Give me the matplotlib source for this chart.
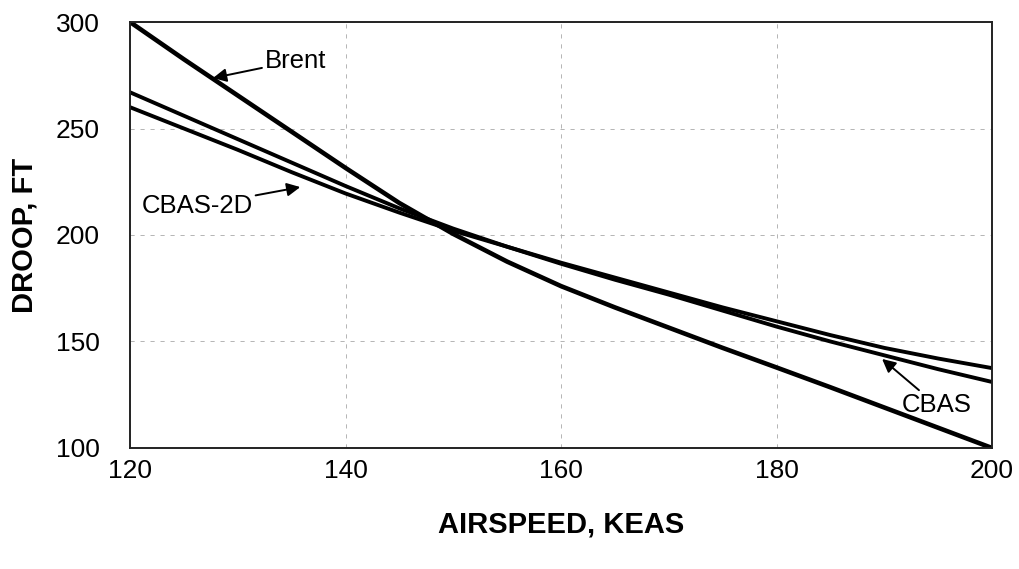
import matplotlib.pyplot as plt

plt.rcParams['font.family'] = ['Liberation Sans', 'DejaVu Sans']

# droop vs airspeed for the three estimators
airspeed = [120, 125, 130, 135, 140, 145, 150, 155, 160,
            165, 170, 175, 180, 185, 190, 195, 200]
droop_brent = [300, 282.5, 265.5, 248.5, 231.5, 215, 200.5, 187.5, 176,
               166, 156.5, 147, 137.8, 128.5, 119, 109.5, 100]
droop_cbas = [267, 256, 245, 234, 223, 212.5, 203, 194.5, 186.5,
              179, 172, 164.5, 157, 150, 143.5, 137, 131]
droop_cbas2d = [260, 250, 240, 229.5, 219.5, 210.5, 202, 194.5, 187,
                180, 173, 166, 159.5, 153, 147, 142, 137.5]

xticks = [120, 140, 160, 180, 200]
yticks = [100, 150, 200, 250, 300]

fig = plt.figure(figsize=(10.19, 5.69), dpi=100)
ax = fig.add_axes([0.1276, 0.2127, 0.8459, 0.7486])

ax.plot(airspeed, droop_brent, color='black', lw=3.3, solid_joinstyle='round')
ax.plot(airspeed, droop_cbas, color='black', lw=2.8, solid_joinstyle='round')
ax.plot(airspeed, droop_cbas2d, color='black', lw=2.8, solid_joinstyle='round')

ax.set_xlim(120, 200)
ax.set_ylim(100, 300)
ax.set_xticks(xticks)
ax.set_yticks(yticks)
ax.tick_params(axis='both', length=0, labelsize=19)
ax.tick_params(axis='x', pad=8)
ax.tick_params(axis='y', pad=22)
ax.grid(True, color='#a8a8a8', linestyle=(0, (5, 7)), linewidth=0.6)
for sp in ax.spines.values():
    sp.set_linewidth(1.4)
    sp.set_color('#222222')

ax.set_xlabel('AIRSPEED, KEAS', fontsize=21, fontweight='bold', labelpad=20)
ax.set_ylabel('DROOP, FT', fontsize=21, fontweight='bold', labelpad=12)

arrow = dict(arrowstyle='-|>', color='black', lw=1.4, mutation_scale=20,
             shrinkA=0, shrinkB=0)
ax.annotate('Brent', xy=(127.7, 273.7), xytext=(132.5, 281.7),
            fontsize=18.5, va='center', ha='left', arrowprops=arrow)
ax.annotate('CBAS-2D', xy=(135.8, 222.5), xytext=(131.4, 213.5),
            fontsize=18.5, va='center', ha='right', arrowprops=arrow)
ax.annotate('CBAS', xy=(189.8, 141.8), xytext=(191.6, 120.2),
            fontsize=18.5, va='center', ha='left', arrowprops=arrow)

fig.savefig('out.png', dpi=100)
